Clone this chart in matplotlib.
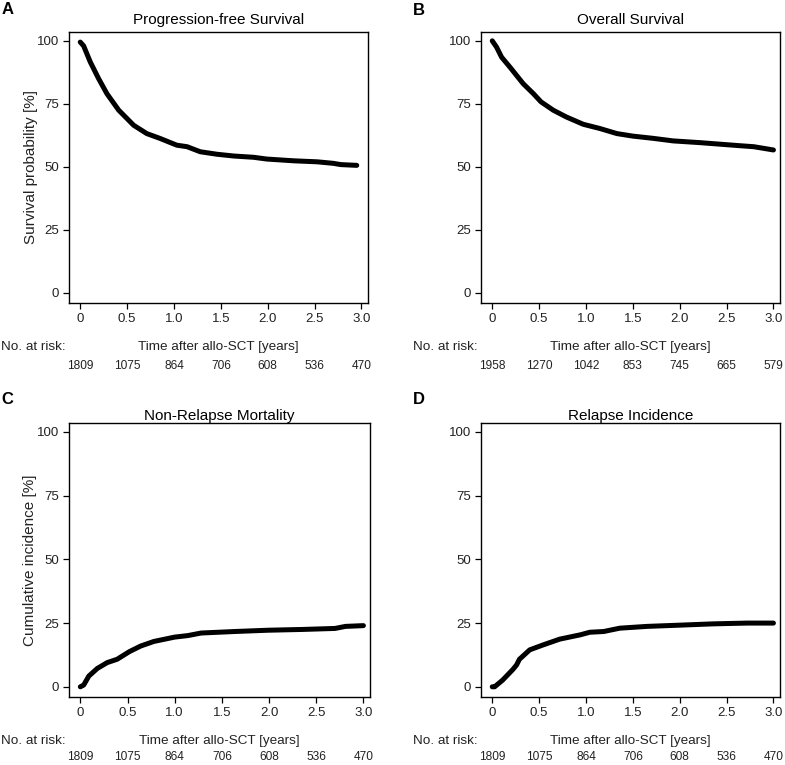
import matplotlib.pyplot as plt

plt.rcParams["font.family"] = ["Liberation Sans", "DejaVu Sans"]

# survival / incidence curves (time in years, value in %)
pfs_t = [0, 0.036, 0.107, 0.196, 0.285, 0.41, 0.57, 0.71, 0.85, 1.03, 1.14, 1.28,
         1.46, 1.64, 1.85, 1.99, 2.28, 2.53, 2.70, 2.78, 2.95]
pfs_v = [99.5, 98, 91.6, 85, 79, 72.5, 66.5, 63.2, 61.3, 58.6, 58, 56,
         55, 54.3, 53.8, 53.1, 52.4, 52, 51.4, 50.9, 50.6]

os_t = [0, 0.046, 0.1, 0.19, 0.33, 0.44, 0.52, 0.65, 0.79, 0.97, 1.15, 1.33,
        1.50, 1.72, 1.93, 2.22, 2.43, 2.64, 2.79, 3.0]
os_v = [100, 97.5, 93.5, 89.5, 83, 79, 75.8, 72.5, 69.8, 66.9, 65.2, 63.2,
        62.2, 61.3, 60.3, 59.6, 59.0, 58.4, 58.0, 56.7]

nrm_t = [0, 0.036, 0.09, 0.18, 0.285, 0.39, 0.52, 0.64, 0.78, 1.0, 1.14, 1.28,
         1.64, 1.99, 2.35, 2.70, 2.81, 3.0]
nrm_v = [0, 0.7, 4.2, 7.2, 9.5, 10.8, 13.8, 16, 17.8, 19.5, 20.1, 21.1,
         21.7, 22.2, 22.5, 22.9, 23.7, 24.0]

ri_t = [0, 0.025, 0.11, 0.22, 0.26, 0.29, 0.40, 0.54, 0.72, 0.94, 1.04, 1.19,
        1.36, 1.65, 2.01, 2.36, 2.72, 3.0]
ri_v = [0, 0, 2.6, 6.8, 8.6, 10.8, 14.5, 16.4, 18.7, 20.4, 21.4, 21.7,
        23.0, 23.7, 24.2, 24.7, 25.0, 25.0]

risk_times = [0, 0.5, 1.0, 1.5, 2.0, 2.5, 3.0]
risk_pfs = [1809, 1075, 864, 706, 608, 536, 470]
risk_os = [1958, 1270, 1042, 853, 745, 665, 579]

x_ticks = [0, 0.5, 1.0, 1.5, 2.0, 2.5, 3.0]
x_ticklabels = ["0", "0.5", "1.0", "1.5", "2.0", "2.5", "3.0"]
y_ticks = [0, 25, 50, 75, 100]

panels = [
    ("A", "Progression-free Survival", pfs_t, pfs_v, risk_pfs, "Survival probability [%]"),
    ("B", "Overall Survival", os_t, os_v, risk_os, None),
    ("C", "Non-Relapse Mortality", nrm_t, nrm_v, risk_pfs, "Cumulative incidence [%]"),
    ("D", "Relapse Incidence", ri_t, ri_v, risk_pfs, None),
]

W, H = 785, 765
fig = plt.figure(figsize=(W / 100, H / 100), dpi=100)

# axes boxes in pixels: left, top, right, bottom
boxes = [(69, 32, 368, 303), (481, 32, 780, 303),
         (69, 423, 370, 697), (481, 423, 780, 697)]
label_pos = [(2, 2), (413, 3), (1, 392), (413, 392)]

px = 0.72  # pixels -> points

for i, (letter, title, t, v, risk, ylab) in enumerate(panels):
    l, top, r, b = boxes[i]
    ax = fig.add_axes([l / W, 1 - b / H, (r - l) / W, (b - top) / H])
    ax.plot(t, v, color="black", lw=3.6, solid_capstyle="round", solid_joinstyle="round")
    ax.set_xlim(-0.12, 3.07)
    ax.set_ylim(-4, 103.5)
    ax.set_xticks(x_ticks)
    ax.set_xticklabels(x_ticklabels)
    ax.set_yticks(y_ticks)
    ax.tick_params(direction="out", length=4.3, width=0.9, labelsize=9.5,
                   pad=3, colors="black", labelcolor="#222222")
    for s in ax.spines.values():
        s.set_linewidth(1.0)
    ax.set_title(title, fontsize=11, pad=5.5 if i < 2 else 2.5)
    if ylab:
        ax.set_ylabel(ylab, fontsize=11, color="#222222")
        ax.yaxis.set_label_coords(-0.105, 0.5)

    # x label and numbers at risk under the axis
    ax.annotate("Time after allo-SCT [years]", xy=(0.5, 0), xycoords="axes fraction",
                xytext=(0, -44 * px), textcoords="offset points",
                ha="center", va="center", fontsize=9.7, color="#222222")
    ax.annotate("No. at risk:", xy=(0, 0), xycoords="axes fraction",
                xytext=(-68 * px, -44 * px), textcoords="offset points",
                ha="left", va="center", fontsize=9.7, color="#222222")
    risk_off = -63 if i < 2 else -60
    for tt, n in zip(risk_times, risk):
        ax.annotate(str(n), xy=(tt, 0), xycoords=("data", "axes fraction"),
                    xytext=(0, risk_off * px), textcoords="offset points",
                    ha="center", va="center", fontsize=8.6, color="#222222")

    lx, ly = label_pos[i]
    fig.text(lx / W, 1 - ly / H, letter, fontsize=12, fontweight="bold",
             ha="left", va="top")

fig.savefig("out.png", dpi=100)
